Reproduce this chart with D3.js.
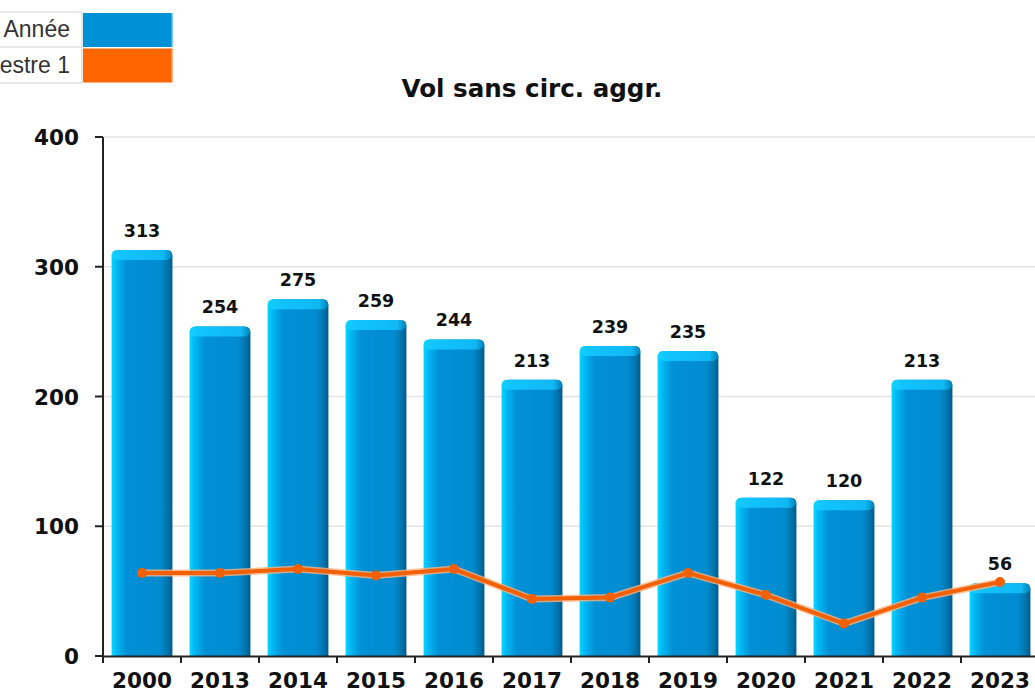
<!DOCTYPE html>
<html><head><meta charset="utf-8">
<script src="https://cdn.jsdelivr.net/npm/d3@7/dist/d3.min.js"></script>
<style>body{margin:0;background:#fff;overflow:hidden}svg{display:block}</style>
</head><body>
<svg id="c" width="1035" height="696"></svg>
<script>
const categories = ["2000","2013","2014","2015","2016","2017","2018","2019","2020","2021","2022","2023"];
const anneeValues = [313,254,275,259,244,213,239,235,122,120,213,56];
const semestreValues = [64,64,67,62,67,44,45,64,47,25,45,57];
const yTicks = [0,100,200,300,400];
const legendLabels = ["Année","Semestre 1"];
const legendColors = ["#0090d6","#ff6600"];
const title = "Vol sans circ. aggr.";

const svg = d3.select("#c");
const defs = svg.append("defs");
const g1 = defs.append("linearGradient").attr("id","barG").attr("x1","0").attr("x2","1").attr("y1","0").attr("y2","0");
[[0,"#00d8ff"],[0.08,"#00b8f4"],[0.25,"#0090d6"],[0.8,"#008ccf"],[0.92,"#0074ad"],[1,"#005a88"]].forEach(s=>g1.append("stop").attr("offset",s[0]).attr("stop-color",s[1]));
const g2 = defs.append("linearGradient").attr("id","capG").attr("x1","0").attr("x2","1").attr("y1","0").attr("y2","0");
[[0,"#10d4ff"],[0.15,"#12c4ff"],[0.85,"#10b8f4"],[1,"#0080b8"]].forEach(s=>g2.append("stop").attr("offset",s[0]).attr("stop-color",s[1]));

const x = d3.scaleBand().domain(categories).range([103,1039]).paddingInner(0.22).paddingOuter(0.11);
const y = d3.scaleLinear().domain([0,400]).range([656,137]);

// legend
const lg = svg.append("g");
legendLabels.forEach((l,i)=>{
  const top = 12 + i*35.5;
  lg.append("rect").attr("x",83).attr("y",top+1).attr("width",88.5).attr("height",34).attr("fill",legendColors[i]);
  lg.append("line").attr("x1",172).attr("x2",172).attr("y1",top+1).attr("y2",top+35).attr("stroke",legendColors[i]).attr("stroke-width",1);
  lg.append("text").attr("x",70).attr("y",top+25).attr("text-anchor","end")
    .attr("font-family","Liberation Sans, Arial, sans-serif").attr("font-size",23).attr("fill","#333").text(l);
});
[12,47,83].forEach(yy=>lg.append("line").attr("x1",0).attr("x2",83).attr("y1",yy).attr("y2",yy).attr("stroke","#e2e2e2").attr("stroke-width",1.5));
lg.append("line").attr("x1",82).attr("x2",82).attr("y1",12).attr("y2",83).attr("stroke","#e2e2e2").attr("stroke-width",1.5);

// title
svg.append("text").attr("x",532).attr("y",97).attr("text-anchor","middle")
  .attr("font-family","DejaVu Sans, sans-serif").attr("font-weight","bold").attr("font-size",24.6).attr("fill","#111").text(title);

// grid
svg.append("g").selectAll("line").data(yTicks.filter(d=>d>0)).join("line")
  .attr("x1",103).attr("x2",1035).attr("y1",d=>y(d)).attr("y2",d=>y(d)).attr("stroke","#e4e4e4").attr("stroke-width",1.5);

// bars
const bars = svg.append("g");
categories.forEach((c,i)=>{
  const bx = x(c), bw = x.bandwidth(), by = y(anneeValues[i]);
  bars.append("path").attr("d",`M${bx},${y(0)} V${by+6} Q${bx},${by} ${bx+6},${by} H${bx+bw-6} Q${bx+bw},${by} ${bx+bw},${by+6} V${y(0)} Z`).attr("fill","url(#barG)");
  bars.append("path").attr("d",`M${bx},${by+7} Q${bx},${by} ${bx+6},${by} H${bx+bw-6} Q${bx+bw},${by} ${bx+bw},${by+7} L${bx+bw-5},${by+10} H${bx+5} Z`).attr("fill","url(#capG)");
  bars.append("text").attr("x",bx+bw/2).attr("y",by-13).attr("text-anchor","middle")
    .attr("font-family","DejaVu Sans, sans-serif").attr("font-weight","bold").attr("font-size",17.5).attr("fill","#111").text(anneeValues[i]);
});

// line
const line = d3.line().x((d,i)=>x(categories[i])+x.bandwidth()/2).y(d=>y(d));
svg.append("path").datum(semestreValues).attr("d",line).attr("fill","none").attr("stroke","#ffb080").attr("stroke-width",7).attr("stroke-linejoin","round").attr("opacity",0.8);
svg.append("path").datum(semestreValues).attr("d",line).attr("fill","none").attr("stroke","#f26000").attr("stroke-width",4).attr("stroke-linejoin","round");
svg.append("g").selectAll("circle").data(semestreValues).join("circle")
  .attr("cx",(d,i)=>x(categories[i])+x.bandwidth()/2).attr("cy",d=>y(d)).attr("r",5).attr("fill","#f26000");

// y axis
const ya = svg.append("g");
ya.append("line").attr("x1",103).attr("x2",103).attr("y1",137).attr("y2",660).attr("stroke","#222").attr("stroke-width",2);
yTicks.forEach(t=>{
  ya.append("line").attr("x1",95).attr("x2",103).attr("y1",y(t)).attr("y2",y(t)).attr("stroke","#222").attr("stroke-width",2);
  ya.append("text").attr("x",79).attr("y",y(t)+8).attr("text-anchor","end")
    .attr("font-family","DejaVu Sans, sans-serif").attr("font-weight","bold").attr("font-size",21.5).attr("fill","#111").text(t);
});
// x axis
const xa = svg.append("g");
xa.append("line").attr("x1",103).attr("x2",1035).attr("y1",656.5).attr("y2",656.5).attr("stroke","#222").attr("stroke-width",2);
categories.forEach((c,i)=>{
  const tx = x(c) - (x.step()-x.bandwidth())/2;
  xa.append("line").attr("x1",tx).attr("x2",tx).attr("y1",656).attr("y2",663).attr("stroke","#222").attr("stroke-width",2);
  xa.append("text").attr("x",x(c)+x.bandwidth()/2).attr("y",688).attr("text-anchor","middle")
    .attr("font-family","DejaVu Sans, sans-serif").attr("font-weight","bold").attr("font-size",21.5).attr("fill","#111").text(c);
});
</script>
</body></html>
